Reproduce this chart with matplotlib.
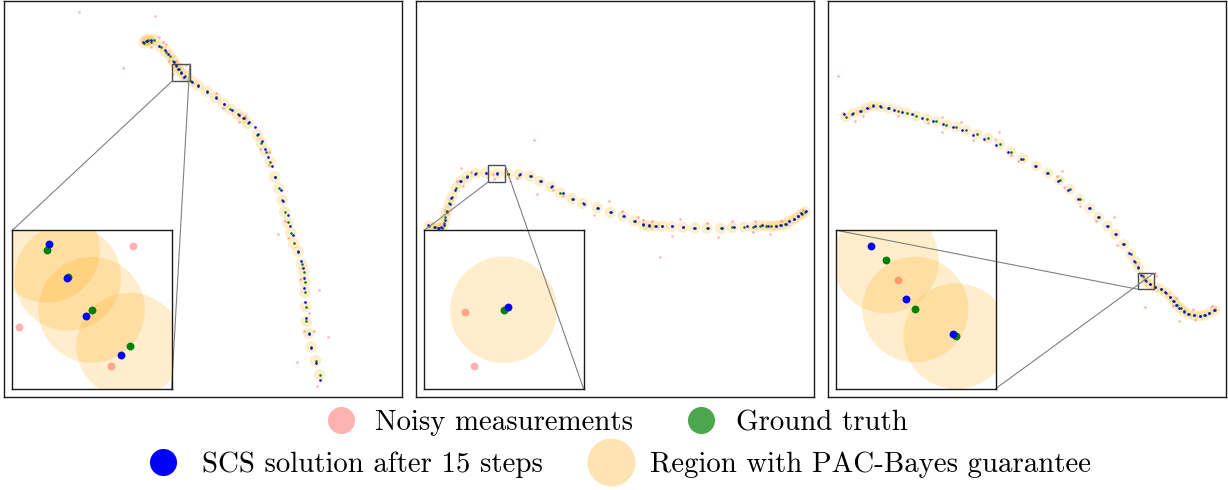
import matplotlib
matplotlib.use('Agg')
import matplotlib.pyplot as plt
from matplotlib.patches import Circle
from matplotlib.lines import Line2D
from mpl_toolkits.axes_grid1.inset_locator import mark_inset

plt.rcParams['font.family'] = 'cmr10'
plt.rcParams['mathtext.fontset'] = 'cm'
plt.rcParams['axes.formatter.use_mathtext'] = True

# Trayectoria 1 (coordenadas, eje y hacia abajo)
gt1 = [(432, 124), (438, 118), (445, 115), (452, 122), (462, 115), (482, 137), (497, 151), (509, 163),
       (519, 178), (528.2, 193.4), (535.1, 202.5), (542.9, 213.1), (555.3, 224.9), (574, 240), (594, 253),
       (620, 270), (646, 289), (670, 308), (690, 324), (712, 339), (728, 350), (742, 367), (771, 402),
       (783, 425), (797, 452), (810, 484), (823, 527), (835, 562), (846, 598), (853, 633), (862, 665),
       (872, 697), (880, 727), (893, 752), (904, 790), (910, 813), (913, 844), (914, 875), (916, 918),
       (918, 962), (925, 998), (933, 1040), (946, 1081), (958, 1123)]
sol1 = [(428, 122), (440, 119), (452, 117), (478, 135), (495, 147), (505, 158), (522, 181), (529.0, 191.4),
        (534.8, 202.8), (541.1, 215.2), (552.4, 228.1), (575, 243), (595, 255), (621, 272), (647, 291),
        (672, 310), (695, 327), (715, 341), (731, 352), (745, 364), (763, 378), (773, 399), (786, 420),
        (793, 443), (803, 469), (815, 496), (825, 527), (843, 568), (847, 600), (862, 643), (868, 676),
        (877, 704), (893, 755), (903, 780), (907, 803), (910, 832), (911, 863), (913, 905), (918, 952),
        (925, 1000), (933, 1043), (946, 1087), (959, 1140)]
ruido1 = [(236, 31), (466, 44), (369, 200), (476, 108), (488, 122), (497, 127), (454, 137), (508, 178),
          (527, 180), (556.4, 192.0), (519.3, 218.8), (549.3, 231.4), (648, 276), (668, 322), (715, 363),
          (735, 345), (779, 443), (805, 452), (807, 493), (855, 662), (834, 700), (863, 712), (900, 835),
          (957, 868), (925, 937), (910, 990), (940, 993), (982, 1010), (889, 1085), (951, 1156)]

# Trayectoria 2
gt2 = [(58, 675), (72, 680), (86, 683), (96, 681), (101, 668), (106, 648), (110, 630), (118, 608),
       (126, 588), (138, 562), (154, 540), (172, 526), (198, 517), (228, 516), (259.9, 518.1), (293, 519),
       (327, 521), (360, 526), (389, 541), (422, 557), (451, 576), (485, 593), (518, 608), (562, 621),
       (600, 634), (638, 646), (673, 660), (700, 672), (716, 676), (734, 675), (757, 676), (785, 677),
       (819, 680), (855, 681), (891, 682), (932, 683), (967, 680), (1003, 679), (1030, 679), (1050, 675),
       (1067, 675), (1083, 676), (1097, 675), (1111, 673), (1126, 670), (1136, 662), (1151, 655),
       (1163, 647), (1175, 640), (1185, 633)]
sol2 = [(54, 672), (74, 679), (84, 681), (94, 679), (102, 673), (106, 659), (112, 635), (121, 610),
        (124, 590), (134, 567), (150, 541), (170, 527), (196, 518), (228, 517), (261.2, 517.1), (295, 519),
        (329, 520), (362, 526), (392, 540), (427, 556), (458, 575), (490, 593), (521, 610), (565, 622),
        (604, 633), (643, 645), (675, 660), (700, 670), (718, 674), (737, 675), (757, 675), (786, 677),
        (818, 680), (853, 681), (893, 682), (935, 681), (971, 678), (1011, 675), (1034, 677), (1057, 672),
        (1074, 675), (1097, 675), (1112, 673), (1127, 669), (1137, 662), (1152, 654), (1163, 646),
        (1174, 638), (1187, 632)]
ruido2 = [(373, 417), (154, 501), (183, 512), (159, 555), (141, 540), (247.9, 518.9), (250.5, 535.7),
          (300, 539), (322, 530), (380, 580), (428, 567), (459, 585), (552, 644), (598, 601), (637, 631),
          (683, 650), (700, 657), (727, 662), (785, 706), (750, 770), (810, 655), (890, 666), (925, 708),
          (965, 662), (1036, 662), (1029, 693), (1080, 701), (1114, 660), (1178, 628), (1165, 645),
          (105, 628), (98, 682)]

# Trayectoria 3
gt3 = [(77, 347), (100, 336), (122, 330), (140, 320), (160, 313), (182, 317), (208, 322), (235, 329),
       (260, 335), (289, 345), (320, 353), (350, 361), (380, 371), (409, 378), (439, 388), (471, 400),
       (505, 411), (540, 430), (573, 452), (610, 473), (650, 495), (686, 516), (720, 538), (750, 565),
       (780, 596), (810, 623), (837, 648), (864, 675), (887, 700), (913, 731), (934, 760), (948, 783),
       (957, 801), (969.9, 827.1), (978.8, 842.0), (991.2, 850.1), (1008, 860), (1024, 866), (1040, 876),
       (1053, 889), (1064, 901), (1074, 913), (1084, 923), (1094, 933), (1108, 941), (1124, 944),
       (1141, 946), (1155, 944), (1170, 936), (1186, 928)]
sol3 = [(71, 339), (97, 338), (120, 330), (140, 321), (159, 315), (181, 316), (203, 320), (222, 326),
        (246, 332), (275, 340), (307, 350), (340, 360), (370, 370), (400, 378), (428, 387), (460, 401),
        (493, 414), (528, 432), (566, 453), (603, 475), (645, 496), (682, 517), (715, 540), (746, 566),
        (776, 596), (808, 623), (835, 648), (862, 675), (888, 701), (910, 730), (930, 757), (945, 780),
        (955, 800), (965.5, 822.8), (976.0, 838.8), (990.3, 849.4), (1006, 858), (1024, 866), (1038, 875),
        (1051, 888), (1062, 900), (1070, 912), (1079, 922), (1093, 932), (1107, 940), (1125, 943),
        (1141, 946), (1157, 943), (1170, 937), (1185, 928)]
ruido3 = [(55, 225), (70, 335), (104, 360), (130, 345), (148, 320), (235, 345), (280, 338), (325, 365),
          (368, 348), (367, 394), (425, 362), (460, 418), (538, 393), (525, 415), (594, 480), (573, 462),
          (726, 511), (712, 525), (733, 557), (782, 615), (830, 660), (882, 648), (893, 733), (1008, 816),
          (1010, 826), (973.5, 833.1), (976, 918), (1071, 893), (1080, 962), (1062, 915), (1122, 925),
          (1128, 958), (1178, 915), (1186, 922)]

# radio de la region PAC-Bayes por trayectoria
radios = [17.4, 16.8, 16.0]
# limites de cada panel y de la zona ampliada
lim_x = [(12, 1205), (18, 1212), (24, 1220)]
zonas = [(517, 569, 187, 239), (235, 285, 493, 543), (955, 1003, 818, 866)]
izq_px = [4, 416, 828]

datos = [(gt1, sol1, ruido1), (gt2, sol2, ruido2), (gt3, sol3, ruido3)]


def dibujar(ax, gt, sol, ruido, radio, s, zona=None):
    for (x, y) in gt:
        if zona is None or (zona[0] <= x <= zona[1] and zona[2] <= y <= zona[3]):
            ax.add_patch(Circle((x, y), radio, color='orange', alpha=0.2, lw=0))
    ax.scatter([p[0] for p in ruido], [p[1] for p in ruido], s=s, color='red', alpha=0.3, lw=0)
    ax.scatter([p[0] for p in gt], [p[1] for p in gt], s=s, color='green', lw=0)
    ax.scatter([p[0] for p in sol], [p[1] for p in sol], s=s, color='blue', lw=0)


fig = plt.figure(figsize=(12.28, 4.9), dpi=100)

for i in range(3):
    gt, sol, ruido = datos[i]
    ax = fig.add_axes([izq_px[i] / 1228, 93 / 490, 398 / 1228, 396 / 490])
    dibujar(ax, gt, sol, ruido, radios[i], 3.5)
    ax.set_xlim(lim_x[i])
    ax.set_ylim(1190, -1)
    ax.set_xticks([])
    ax.set_yticks([])
    for sp in ax.spines.values():
        sp.set_linewidth(1.0)
        sp.set_color('0.1')

    # zona ampliada
    z = zonas[i]
    axins = ax.inset_axes([0.021, 0.021, 0.4, 0.4])
    dibujar(axins, gt, sol, ruido, radios[i], 32, zona=z)
    axins.set_xlim(z[0], z[1])
    axins.set_ylim(z[3], z[2])
    axins.set_xticks([])
    axins.set_yticks([])
    for sp in axins.spines.values():
        sp.set_linewidth(1.0)
        sp.set_color('0.1')
    pp, p1, p2 = mark_inset(ax, axins, loc1=2, loc2=4, fc='none', ec='0.3', lw=1.0)
    p1.set_color('0.5')
    p2.set_color('0.5')
    p1.set_linewidth(0.8)
    p2.set_linewidth(0.8)

# Leyenda en dos filas
h_ruido = Line2D([], [], marker='o', ls='none', ms=19.5, mew=0, color=(1, 0, 0, 0.3))
h_gt = Line2D([], [], marker='o', ls='none', ms=19.5, mew=0, color=(0, 0.5, 0, 0.7))
h_sol = Line2D([], [], marker='o', ls='none', ms=19.5, mew=0, color='blue')
h_reg = Line2D([], [], marker='o', ls='none', ms=34.5, mew=0, color=(1, 0.647, 0, 0.3))

fig.legend([h_ruido, h_gt], ['Noisy measurements', 'Ground truth'], loc='center',
           bbox_to_anchor=(617 / 1228, 1 - 423 / 490), ncol=2, frameon=False, fontsize=20.8,
           handlelength=1.0, handletextpad=0.7, columnspacing=1.85, borderpad=0)
fig.legend([h_sol, h_reg], ['SCS solution after 15 steps', 'Region with PAC-Bayes guarantee'], loc='center',
           bbox_to_anchor=(618 / 1228, 1 - 465 / 490), ncol=2, frameon=False, fontsize=20.8,
           handlelength=1.2, handletextpad=0.75, columnspacing=1.75, borderpad=0)

fig.savefig('out.png', dpi=100)
